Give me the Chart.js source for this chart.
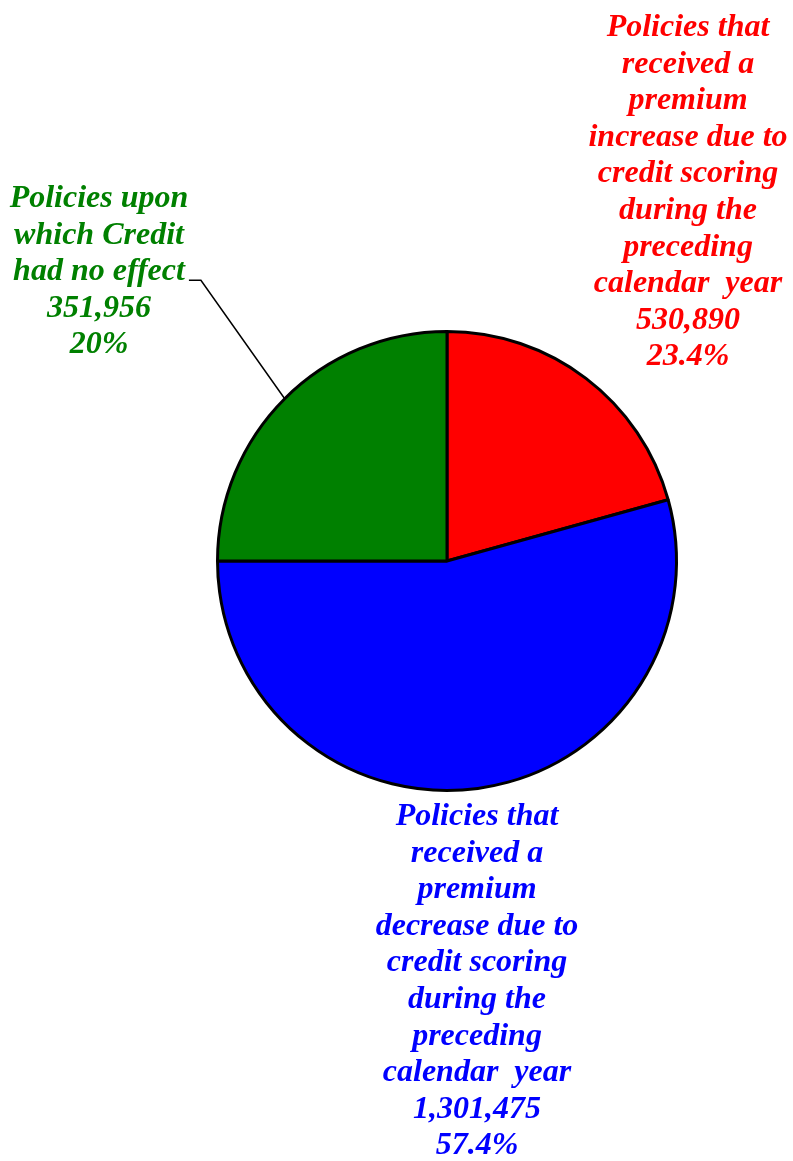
<!DOCTYPE html>
<html>
<head>
<meta charset="utf-8">
<script src="https://cdn.jsdelivr.net/npm/chart.js@4/dist/chart.umd.min.js"></script>
<style>
  html, body { margin: 0; padding: 0; background: #fff; }
  canvas { display: block; }
</style>
</head>
<body>
<canvas id="chart" width="793" height="1161"></canvas>
<script>
// slice shares as drawn in the picture (percent of circle), clockwise from 12 o'clock
const categories = ['Increase', 'Decrease', 'No effect'];
const shares = [20.7, 54.3, 25.0];
const colors = ['#ff0000', '#0000ff', '#008000'];

// label texts as printed
const counts = ['530,890', '1,301,475', '351,956'];
const percents = ['23.4%', '57.4%', '20%'];
const captions = [
  ['Policies that', 'received a', 'premium', 'increase due to', 'credit scoring', 'during the', 'preceding', 'calendar  year'],
  ['Policies that', 'received a', 'premium', 'decrease due to', 'credit scoring', 'during the', 'preceding', 'calendar  year'],
  ['Policies upon', 'which Credit', 'had no effect']
];

const FONT = 'italic bold 32px "Liberation Serif", "Times New Roman", serif';
const LINE = 36.6;

// where each label block sits, relative to pie centre (in radii-free px offsets)
const labelOffsets = [
  { dx: 241, dy: -525 },
  { dx: 30, dy: 264 },
  { dx: -348, dy: -354 }
];

const labelPlugin = {
  id: 'labels',
  afterDraw(chart) {
    const ctx = chart.ctx;
    const arcs = chart.getDatasetMeta(0).data;
    const cx = arcs[0].x;
    const cy = arcs[0].y;
    const r = arcs[0].outerRadius;
    ctx.save();
    ctx.font = FONT;
    ctx.textAlign = 'center';
    ctx.textBaseline = 'alphabetic';
    for (let i = 0; i < categories.length; i++) {
      const lines = captions[i].concat([counts[i], percents[i]]);
      const x = cx + labelOffsets[i].dx;
      const y0 = cy + labelOffsets[i].dy;
      ctx.fillStyle = colors[i];
      lines.forEach((t, j) => ctx.fillText(t, x, y0 + j * LINE));
    }

    // leader line for the green slice
    const g = arcs[2];
    const mid = (g.startAngle + g.endAngle) / 2;
    const ex = cx + Math.cos(mid) * r;
    const ey = cy + Math.sin(mid) * r;
    const lx = cx + labelOffsets[2].dx;
    const ly = cy + labelOffsets[2].dy + 2 * LINE;
    const w = ctx.measureText(captions[2][2]).width;
    const sx = lx + w / 2 + 4;
    ctx.strokeStyle = '#000';
    ctx.lineWidth = 1.5;
    ctx.beginPath();
    ctx.moveTo(sx, ly);
    ctx.lineTo(sx + 12, ly);
    ctx.lineTo(ex, ey);
    ctx.stroke();
    ctx.restore();
  }
};

new Chart(document.getElementById('chart'), {
  type: 'pie',
  data: {
    labels: categories,
    datasets: [{
      data: shares,
      backgroundColor: colors,
      borderColor: '#000',
      borderWidth: 3
    }]
  },
  options: {
    responsive: false,
    animation: false,
    layout: { padding: { left: 216, right: 115, top: 330, bottom: 369 } },
    plugins: {
      legend: { display: false },
      tooltip: { enabled: false }
    }
  },
  plugins: [labelPlugin]
});
</script>
</body>
</html>
